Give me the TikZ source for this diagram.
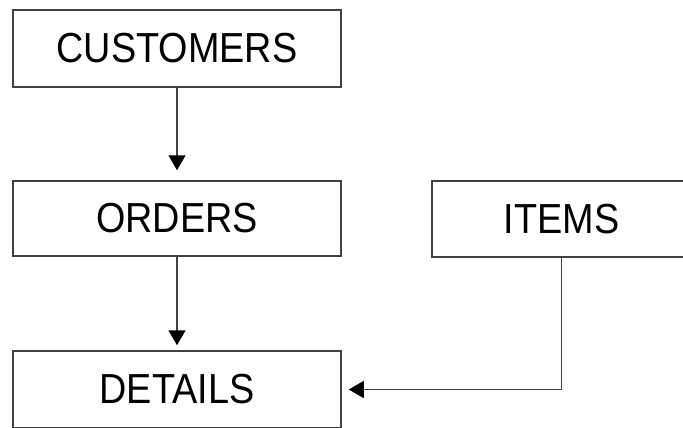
\documentclass[tikz,border=0pt]{standalone}
\usepackage{fontspec}
\newfontfamily\boxfont[FakeStretch=0.9]{Liberation Sans}
\usetikzlibrary{arrows.meta}
\tikzset{
  table/.style={draw=black!75, line width=1.5pt, fill=white, inner sep=0pt,
    font=\boxfont\fontsize{42}{46}\selectfont, text=black},
  link/.style={draw=black!75, line width=1.5pt,
    -{Triangle[length=15pt,width=17pt,color=black]}},
}
\begin{document}
\begin{tikzpicture}[x=1pt,y=-1pt]
  \useasboundingbox (0,0) rectangle (683,428);
  \clip (0,0) rectangle (683,428);
  % tables
  \node[table, minimum width=328pt, minimum height=77pt] (customers) at (177,48.5) {CUSTOMERS};
  \node[table, minimum width=328pt, minimum height=75pt] (orders) at (177,218.5) {ORDERS};
  \node[table, minimum width=259pt, minimum height=76pt] (items) at (561.5,219) {ITEMS};
  \node[table, minimum width=328pt, minimum height=77pt] (details) at (177,389.5) {DETAILS};
  % relations
  \draw[link, shorten >=10pt] (customers.south) -- (orders.north);
  \draw[link, shorten >=5pt] (orders.south) -- (details.north);
  \draw[link, shorten >=7pt] (items.south) |- (details.east);
\end{tikzpicture}
\end{document}
